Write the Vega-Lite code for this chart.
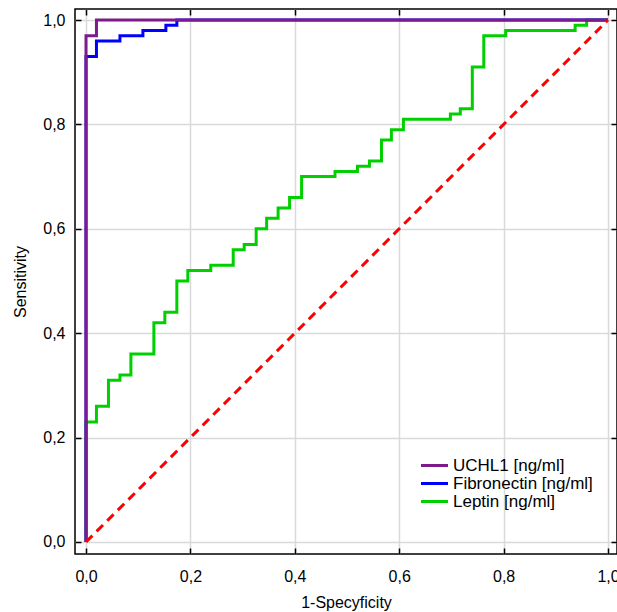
{
  "$schema": "https://vega.github.io/schema/vega-lite/v6.json",
  "autosize": "none",
  "width": 542,
  "height": 545,
  "padding": {"left": 75, "top": 9, "right": 0, "bottom": 58},
  "background": "white",
  "config": {
    "font": "Liberation Sans",
    "view": {"stroke": "#000000", "strokeWidth": 1.5},
    "axis": {
      "labelFont": "Liberation Sans",
      "titleFont": "Liberation Sans",
      "labelFontSize": 16,
      "titleFontSize": 16,
      "titleFontWeight": "normal",
      "labelColor": "#000000",
      "titleColor": "#000000",
      "gridColor": "#d9d9d9",
      "gridWidth": 1.5,
      "tickColor": "#000000",
      "tickWidth": 1.5,
      "domain": false
    }
  },
  "datasets": {
    "roc": [
      {"marker": "Leptin [ng/ml]", "i": 0, "fpr": 0, "tpr": 0},
      {"marker": "Leptin [ng/ml]", "i": 1, "fpr": 0, "tpr": 0.23},
      {"marker": "Leptin [ng/ml]", "i": 2, "fpr": 0.02, "tpr": 0.26},
      {"marker": "Leptin [ng/ml]", "i": 3, "fpr": 0.043, "tpr": 0.31},
      {"marker": "Leptin [ng/ml]", "i": 4, "fpr": 0.065, "tpr": 0.32},
      {"marker": "Leptin [ng/ml]", "i": 5, "fpr": 0.086, "tpr": 0.36},
      {"marker": "Leptin [ng/ml]", "i": 6, "fpr": 0.13, "tpr": 0.42},
      {"marker": "Leptin [ng/ml]", "i": 7, "fpr": 0.151, "tpr": 0.44},
      {"marker": "Leptin [ng/ml]", "i": 8, "fpr": 0.174, "tpr": 0.5},
      {"marker": "Leptin [ng/ml]", "i": 9, "fpr": 0.195, "tpr": 0.52},
      {"marker": "Leptin [ng/ml]", "i": 10, "fpr": 0.239, "tpr": 0.53},
      {"marker": "Leptin [ng/ml]", "i": 11, "fpr": 0.282, "tpr": 0.56},
      {"marker": "Leptin [ng/ml]", "i": 12, "fpr": 0.303, "tpr": 0.57},
      {"marker": "Leptin [ng/ml]", "i": 13, "fpr": 0.326, "tpr": 0.6},
      {"marker": "Leptin [ng/ml]", "i": 14, "fpr": 0.346, "tpr": 0.62},
      {"marker": "Leptin [ng/ml]", "i": 15, "fpr": 0.368, "tpr": 0.64},
      {"marker": "Leptin [ng/ml]", "i": 16, "fpr": 0.39, "tpr": 0.66},
      {"marker": "Leptin [ng/ml]", "i": 17, "fpr": 0.413, "tpr": 0.7},
      {"marker": "Leptin [ng/ml]", "i": 18, "fpr": 0.477, "tpr": 0.71},
      {"marker": "Leptin [ng/ml]", "i": 19, "fpr": 0.52, "tpr": 0.72},
      {"marker": "Leptin [ng/ml]", "i": 20, "fpr": 0.543, "tpr": 0.73},
      {"marker": "Leptin [ng/ml]", "i": 21, "fpr": 0.566, "tpr": 0.77},
      {"marker": "Leptin [ng/ml]", "i": 22, "fpr": 0.585, "tpr": 0.79},
      {"marker": "Leptin [ng/ml]", "i": 23, "fpr": 0.608, "tpr": 0.81},
      {"marker": "Leptin [ng/ml]", "i": 24, "fpr": 0.698, "tpr": 0.82},
      {"marker": "Leptin [ng/ml]", "i": 25, "fpr": 0.717, "tpr": 0.83},
      {"marker": "Leptin [ng/ml]", "i": 26, "fpr": 0.74, "tpr": 0.91},
      {"marker": "Leptin [ng/ml]", "i": 27, "fpr": 0.762, "tpr": 0.97},
      {"marker": "Leptin [ng/ml]", "i": 28, "fpr": 0.804, "tpr": 0.98},
      {"marker": "Leptin [ng/ml]", "i": 29, "fpr": 0.937, "tpr": 0.99},
      {"marker": "Leptin [ng/ml]", "i": 30, "fpr": 0.959, "tpr": 1.0},
      {"marker": "Leptin [ng/ml]", "i": 31, "fpr": 1.0, "tpr": 1.0},
      {"marker": "Fibronectin [ng/ml]", "i": 0, "fpr": 0, "tpr": 0},
      {"marker": "Fibronectin [ng/ml]", "i": 1, "fpr": 0, "tpr": 0.93},
      {"marker": "Fibronectin [ng/ml]", "i": 2, "fpr": 0.02, "tpr": 0.96},
      {"marker": "Fibronectin [ng/ml]", "i": 3, "fpr": 0.065, "tpr": 0.97},
      {"marker": "Fibronectin [ng/ml]", "i": 4, "fpr": 0.109, "tpr": 0.98},
      {"marker": "Fibronectin [ng/ml]", "i": 5, "fpr": 0.153, "tpr": 0.99},
      {"marker": "Fibronectin [ng/ml]", "i": 6, "fpr": 0.174, "tpr": 1.0},
      {"marker": "Fibronectin [ng/ml]", "i": 7, "fpr": 1.0, "tpr": 1.0},
      {"marker": "UCHL1 [ng/ml]", "i": 0, "fpr": 0, "tpr": 0},
      {"marker": "UCHL1 [ng/ml]", "i": 1, "fpr": 0, "tpr": 0.97},
      {"marker": "UCHL1 [ng/ml]", "i": 2, "fpr": 0.02, "tpr": 1.0},
      {"marker": "UCHL1 [ng/ml]", "i": 3, "fpr": 1.0, "tpr": 1.0}
    ],
    "ref": [
      {"fpr": 0, "tpr": 0},
      {"fpr": 1, "tpr": 1}
    ]
  },
  "layer": [
    {
      "data": {"name": "roc"},
      "mark": {"type": "line", "interpolate": "step-after", "strokeWidth": 3},
      "encoding": {
        "x": {
          "field": "fpr", "type": "quantitative",
          "scale": {"domain": [-0.0211, 1.0172], "nice": false, "zero": false},
          "axis": {
            "orient": "bottom",
            "title": "1-Specyficity",
            "values": [0, 0.2, 0.4, 0.6, 0.8, 1],
            "labelExpr": "replace(format(datum.value, '.1f'), '.', ',')",
            "tickSize": -6,
            "labelPadding": 20,
            "titlePadding": 10
          }
        },
        "y": {
          "field": "tpr", "type": "quantitative",
          "scale": {"domain": [-0.023, 1.0211], "nice": false, "zero": false},
          "axis": {
            "orient": "left",
            "title": "Sensitivity",
            "values": [0, 0.2, 0.4, 0.6, 0.8, 1],
            "labelExpr": "replace(format(datum.value, '.1f'), '.', ',')",
            "tickSize": -6,
            "labelPadding": 16,
            "titlePadding": 14
          }
        },
        "order": {"field": "i", "type": "quantitative"},
        "color": {
          "field": "marker", "type": "nominal",
          "scale": {
            "domain": ["UCHL1 [ng/ml]", "Fibronectin [ng/ml]", "Leptin [ng/ml]"],
            "range": ["#7f1a8c", "#0000ff", "#00d000"]
          },
          "legend": {
            "title": null,
            "orient": "none",
            "legendX": 351,
            "legendY": 448,
            "padding": 0,
            "symbolType": "M-2,0H2",
            "symbolSize": 182,
            "symbolStrokeWidth": 3,
            "symbolFillColor": "transparent",
            "labelFont": "Liberation Sans",
            "labelFontSize": 17,
            "labelColor": "#000000",
            "rowPadding": 0,
            "labelOffset": 10
          }
        }
      }
    },
    {
      "data": {"name": "ref"},
      "mark": {"type": "line", "color": "#ff0000", "strokeWidth": 3, "strokeDash": [9, 6]},
      "encoding": {
        "x": {
          "field": "fpr", "type": "quantitative",
          "axis": {
            "orient": "top", "title": null, "labels": false, "grid": false,
            "values": [0, 0.2, 0.4, 0.6, 0.8, 1], "tickSize": -6
          }
        },
        "y": {
          "field": "tpr", "type": "quantitative",
          "axis": {
            "orient": "right", "title": null, "labels": false, "grid": false,
            "values": [0, 0.2, 0.4, 0.6, 0.8, 1], "tickSize": -6
          }
        }
      }
    }
  ],
  "resolve": {"axis": {"x": "independent", "y": "independent"}}
}
